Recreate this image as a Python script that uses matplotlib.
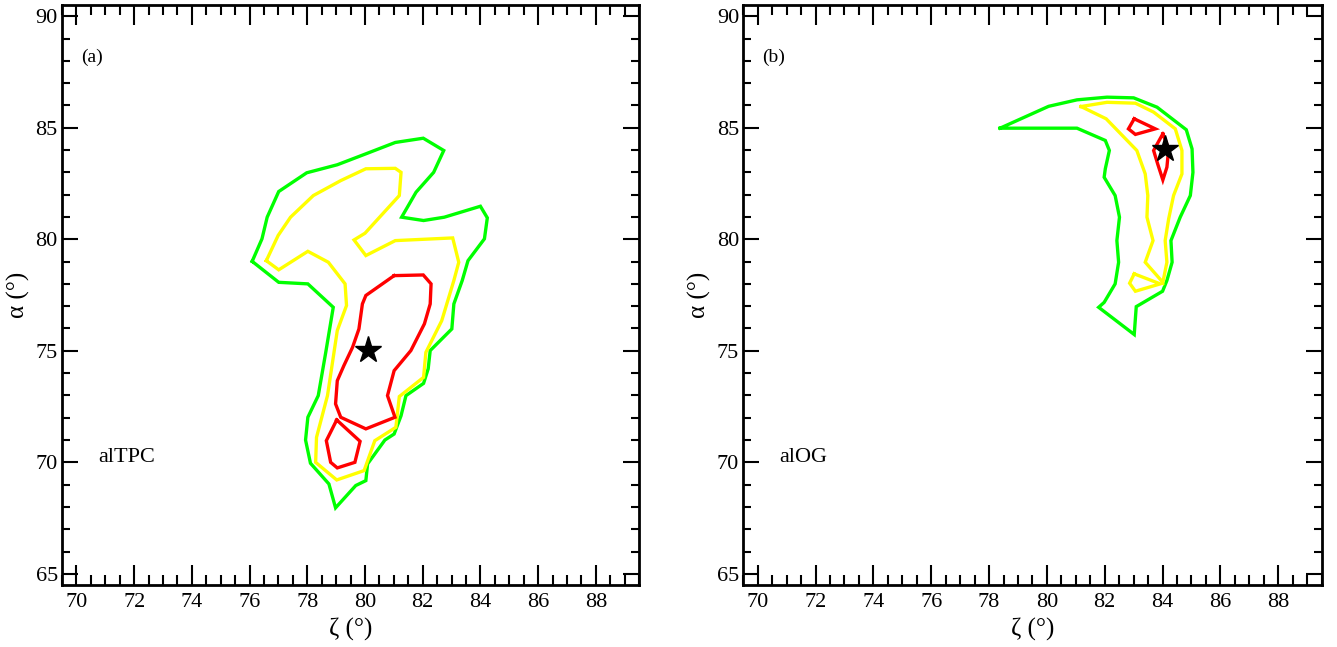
import numpy as np
import matplotlib
matplotlib.use("Agg")
import matplotlib.pyplot as plt
from matplotlib.ticker import MultipleLocator

plt.rcParams['font.family'] = ['Liberation Serif', 'DejaVu Serif']

# ---- panel (a): alTPC confidence contours in (zeta, alpha) ----
a_green_zeta = [76.09, 76.43, 76.61, 77.01, 77.98, 79.04, 80.03, 81.05, 82.02, 82.73,
                82.38, 81.77, 81.27, 82.03, 82.75, 84.00, 84.24, 84.14, 83.57, 83.37,
                83.08, 83.01, 82.26, 82.19, 82.03, 81.42, 81.25, 81.01, 80.69, 80.09,
                80.03, 79.68, 78.98, 78.75, 78.11, 77.94, 78.02, 78.38, 78.64, 78.90,
                78.02, 77.01]
a_green_alpha = [79.01, 80.02, 80.99, 82.14, 82.98, 83.34, 83.83, 84.34, 84.53, 83.98,
                 83.00, 82.11, 80.99, 80.84, 80.99, 81.48, 80.96, 80.02, 79.04, 78.15,
                 77.10, 75.98, 75.01, 74.19, 73.54, 72.99, 72.09, 71.27, 71.00, 69.93,
                 69.18, 68.96, 67.96, 69.03, 69.96, 71.00, 72.02, 72.99, 74.93, 76.95,
                 78.00, 78.07]

a_yellow_zeta = [76.58, 77.01, 78.02, 78.73, 79.31, 79.36, 79.04, 78.70, 78.32, 78.29,
                 79.02, 79.97, 80.34, 81.07, 81.19, 82.03, 82.11, 82.66, 83.08, 83.25,
                 83.04, 81.05, 80.03, 79.62, 80.00, 81.19, 81.25, 81.05, 80.03, 79.16,
                 78.21, 77.42, 76.99]
a_yellow_alpha = [79.04, 78.63, 79.46, 78.97, 78.00, 77.03, 75.91, 72.99, 71.12, 70.00,
                  69.21, 69.63, 70.97, 71.57, 72.95, 73.81, 74.93, 76.35, 78.15, 78.97,
                  80.06, 79.94, 79.27, 79.97, 80.27, 81.96, 83.00, 83.18, 83.16, 82.63,
                  81.96, 80.99, 80.17]

a_red_zeta = [81.01, 82.02, 82.29, 82.26, 82.06, 81.59, 81.01, 80.78, 81.04, 80.03,
              79.16, 78.98, 79.04, 79.27, 79.57, 79.79, 79.91, 80.03]
a_red_alpha = [78.37, 78.40, 78.00, 77.10, 76.21, 75.01, 74.11, 72.99, 72.02, 71.50,
               72.02, 72.62, 73.66, 74.34, 75.16, 75.98, 77.10, 77.48]

a_red2_zeta = [79.02, 79.83, 79.65, 79.04, 78.81, 78.66]
a_red2_alpha = [71.90, 70.94, 70.00, 69.75, 70.00, 70.97]

a_best = (80.1, 75.05)

# ---- panel (b): alOG confidence contours ----
b_green_zeta = [78.38, 80.06, 81.04, 82.08, 83.00, 83.81, 84.82, 85.02, 85.05, 84.96,
                84.61, 84.29, 84.33, 84.15, 84.00, 83.09, 83.02, 81.79, 81.98, 82.36,
                82.48, 82.42, 82.51, 82.36, 81.98, 82.02, 82.16, 82.02, 81.04]
b_green_alpha = [84.98, 85.96, 86.25, 86.37, 86.34, 85.92, 84.91, 84.05, 83.00, 81.96,
                 80.99, 79.94, 78.97, 78.15, 77.67, 76.98, 75.73, 76.95, 77.17, 78.00,
                 78.97, 79.94, 80.99, 81.96, 82.78, 83.16, 83.98, 84.43, 84.98]

b_yellow_zeta = [81.18, 82.08, 83.06, 83.69, 84.44, 84.67, 84.67, 84.38, 84.21, 84.09,
                 84.15, 84.01, 83.40, 83.67, 83.46, 83.49, 83.40, 83.11, 82.05]
b_yellow_alpha = [85.95, 86.14, 86.10, 85.70, 84.95, 83.98, 82.93, 81.96, 80.91, 79.94,
                  78.97, 78.07, 78.97, 79.94, 80.99, 81.96, 82.93, 83.98, 85.40]

b_yellow2_zeta = [83.02, 83.92, 83.06, 82.86]
b_yellow2_alpha = [78.45, 78.00, 77.67, 78.03]

b_red_zeta = [83.02, 83.75, 83.06, 82.82]
b_red_alpha = [85.40, 84.95, 84.70, 84.95]

b_red2_zeta = [84.01, 84.21, 84.15, 84.01, 83.83, 83.69]
b_red2_alpha = [84.73, 84.05, 83.23, 82.66, 83.38, 83.98]

b_best = (84.1, 84.05)

GREEN, YELLOW, RED = '#00ff00', '#ffff00', '#ff0000'

panels = [
    dict(tag='(a)', name='alTPC', best=a_best,
         curves=[(a_green_zeta, a_green_alpha, GREEN),
                 (a_yellow_zeta, a_yellow_alpha, YELLOW),
                 (a_red_zeta, a_red_alpha, RED),
                 (a_red2_zeta, a_red2_alpha, RED)]),
    dict(tag='(b)', name='alOG', best=b_best,
         curves=[(b_green_zeta, b_green_alpha, GREEN),
                 (b_yellow_zeta, b_yellow_alpha, YELLOW),
                 (b_yellow2_zeta, b_yellow2_alpha, YELLOW),
                 (b_red_zeta, b_red_alpha, RED),
                 (b_red2_zeta, b_red2_alpha, RED)]),
]

fig = plt.figure(figsize=(13.37, 6.47), dpi=100)
rects = [[0.0464, 0.0958, 0.4316, 0.8964], [0.5559, 0.0958, 0.4326, 0.8964]]

for rect, p in zip(rects, panels):
    ax = fig.add_axes(rect)
    for zx, ay, col in p['curves']:
        zx = np.append(zx, zx[0])
        ay = np.append(ay, ay[0])
        ax.plot(zx, ay, color=col, lw=2.4, solid_joinstyle='miter')
    ax.plot(*p['best'], marker='*', color='black', ms=20, ls='none', zorder=5)

    ax.set_xlim(69.5, 89.5)
    ax.set_ylim(64.5, 90.5)
    ax.xaxis.set_major_locator(MultipleLocator(2))
    ax.xaxis.set_minor_locator(MultipleLocator(0.5))
    ax.yaxis.set_major_locator(MultipleLocator(5))
    ax.yaxis.set_minor_locator(MultipleLocator(1))
    ax.tick_params(which='both', direction='in', top=True, right=True,
                   width=1.5, labelsize=16)
    ax.tick_params(axis='x', which='major', length=14.4, pad=6)
    ax.tick_params(axis='x', which='minor', length=7.2)
    ax.tick_params(axis='y', which='major', length=11.3, pad=3)
    ax.tick_params(axis='y', which='minor', length=5.8)
    for s in ax.spines.values():
        s.set_linewidth(2.0)

    ax.set_xlabel('ζ (°)', fontsize=18, labelpad=4)
    ax.set_ylabel('α (°)', fontsize=18, labelpad=4)

    ax.text(70.15, 87.95, p['tag'], fontsize=14, ha='left', va='baseline')
    ax.text(70.75, 70.0, p['name'], fontsize=16, ha='left', va='baseline')

fig.savefig('out.png', dpi=100)
